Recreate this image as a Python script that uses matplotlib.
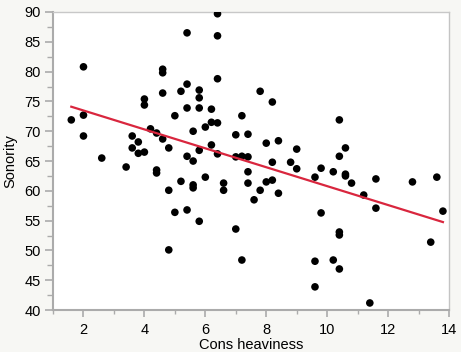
import numpy as np
import matplotlib
matplotlib.use('Agg')
import matplotlib.pyplot as plt
from matplotlib.ticker import MultipleLocator

plt.rcParams['font.family'] = ['Liberation Sans', 'DejaVu Sans']

# data
cons_heaviness = [1.6, 2.0, 2.0, 2.0, 2.6, 3.4, 3.6, 3.6, 3.8, 3.8,
                  4.0, 4.0, 4.0, 4.2, 4.4, 4.4, 4.4, 4.6, 4.8, 4.6,
                  4.6, 4.6, 5.2, 5.4, 5.8, 5.8, 6.4, 6.4, 5.4, 6.4,
                  5.0, 5.4, 5.8, 6.2, 6.2, 6.4, 6.0, 5.6, 5.4, 5.6,
                  5.8, 6.2, 6.4, 7.0, 7.2, 7.4, 7.8, 8.2, 8.0, 8.4,
                  9.0, 7.0, 7.2, 7.4, 8.2, 8.8, 9.0, 7.4, 5.2, 6.0,
                  8.2, 5.6, 5.6, 4.8, 6.6, 6.6, 7.4, 8.0, 7.8, 8.4,
                  7.6, 5.0, 5.4, 5.8, 7.0, 4.8, 7.2, 10.4, 10.6, 10.4,
                  9.8, 10.2, 10.6, 10.6, 9.6, 11.6, 13.6, 10.8, 12.8, 11.2,
                  11.6, 9.8, 13.8, 10.4, 10.4, 13.4, 9.6, 10.2, 10.4, 9.6,
                  11.4]
sonority = [71.9, 80.8, 72.7, 69.2, 65.5, 64.0, 69.2, 67.2, 68.2, 66.3,
            66.5, 75.4, 74.4, 70.4, 69.7, 63.5, 63.0, 68.7, 67.2, 80.4,
            79.8, 76.4, 76.7, 77.9, 76.9, 75.6, 78.8, 89.7, 86.5, 86.0,
            72.6, 73.9, 73.9, 73.7, 71.5, 71.4, 70.7, 70.0, 65.8, 65.0,
            66.8, 67.7, 66.2, 69.4, 72.6, 69.5, 76.7, 74.9, 68.0, 68.4,
            67.0, 65.7, 65.8, 65.7, 64.8, 64.8, 63.7, 63.2, 61.6, 62.3,
            61.8, 61.0, 60.5, 60.1, 61.3, 60.1, 61.3, 61.5, 60.1, 59.6,
            58.5, 56.4, 56.8, 54.9, 53.6, 50.1, 48.4, 71.9, 67.2, 65.8,
            63.8, 63.2, 62.8, 62.5, 62.3, 62.0, 62.3, 61.3, 61.5, 59.3,
            57.1, 56.3, 56.6, 53.1, 52.6, 51.4, 48.2, 48.4, 46.9, 43.9,
            41.2]

x = np.array(cons_heaviness)
y = np.array(sonority)

# linear fit over the data range
slope, intercept = np.polyfit(x, y, 1)
xfit = np.array([x.min(), x.max()])
yfit = intercept + slope * xfit

fig = plt.figure(figsize=(4.61, 3.52), dpi=100)
fig.patch.set_facecolor('#f7f7f4')
ax = fig.add_axes([0.115, 0.119, 0.859, 0.847])
ax.set_facecolor('white')

ax.scatter(x, y, s=30, color='black', edgecolors='none', zorder=3)
ax.plot(xfit, yfit, color='#d9263e', linewidth=1.6, zorder=4)

ax.set_xlim(1, 14)
ax.set_ylim(40, 90)
ax.xaxis.set_major_locator(MultipleLocator(2))
ax.xaxis.set_minor_locator(MultipleLocator(1))
ax.yaxis.set_major_locator(MultipleLocator(5))
ax.yaxis.set_minor_locator(MultipleLocator(2.5))

grey = '#ababab'
for s in ax.spines.values():
    s.set_color(grey)
    s.set_linewidth(1.0)
ax.spines['left'].set_linewidth(1.5)
ax.spines['bottom'].set_linewidth(1.5)
ax.spines['right'].set_color('#c4c4c4')
ax.spines['top'].set_color('#c8c8c8')

ax.tick_params(which='major', length=6, width=1.2, color=grey, labelsize=10.5, pad=3)
ax.tick_params(which='minor', length=4, width=1.0, color=grey)
ax.tick_params(axis='x', which='major', length=5, labelsize=10.5, pad=4)
ax.tick_params(axis='x', which='minor', length=3)

ax.set_xlabel('Cons heaviness', fontsize=10.5, labelpad=1)
ax.set_ylabel('Sonority', fontsize=10.5, labelpad=5)

fig.savefig('out.png', dpi=100, facecolor=fig.get_facecolor())
